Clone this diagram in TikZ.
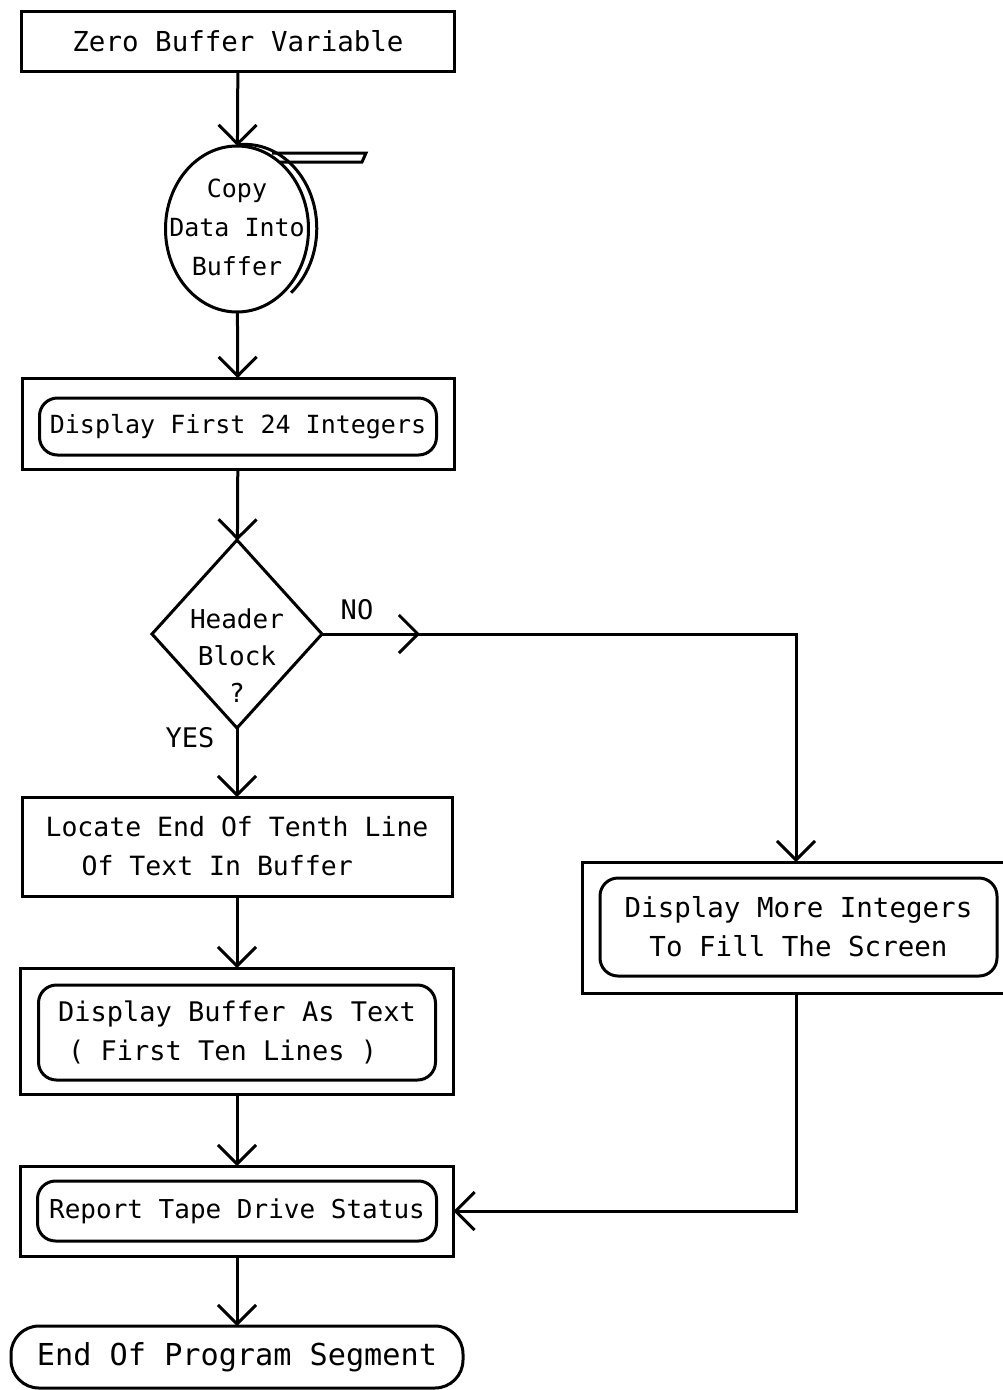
\documentclass[tikz,border=0pt]{standalone}
\usepackage{fontspec}
\newfontfamily\plotfont{DejaVu Sans Mono}
\usetikzlibrary{arrows.meta,shapes.geometric,decorations.markings}

\begin{document}
\begin{tikzpicture}[x=1pt,y=1pt,
  line width=3pt,
  every node/.style={inner sep=0pt, outer sep=0pt},
  fs/.style={font=\plotfont\fontsize{#1}{39}\selectfont},
  txt/.style={fs=26, align=center},
  box/.style={draw, rectangle, txt},
  outerbox/.style={draw, rectangle},
  innerbox/.style={draw, rectangle, rounded corners=18pt, txt},
  reel/.style={draw, ellipse},
  decision/.style={draw, diamond},
  terminal/.style={draw, rectangle, rounded corners=28pt, txt},
  flowtip/.style={-{Straight Barb[length=19pt,width=38pt]}},
  midtip/.style={postaction={decorate}, decoration={markings,
     mark=at position #1 with {\arrow{Straight Barb[length=19pt,width=38pt]}}}},
]
\useasboundingbox (0,0) rectangle (1003,-1390);
\clip (0,0) rectangle (1003,-1390);

% process steps
\node[box, fs=27.5, minimum width=433pt, minimum height=60pt] (zero) at (238,-41) {Zero Buffer Variable};

\node[reel, minimum width=143pt, minimum height=166pt] (copy) at (237,-229) {};
\node[txt, fs=25] (copytxt) at (237,-227) {Copy\\Data Into\\Buffer};
% tape wound on the reel and leaving it
\draw (236,-145) arc[start angle=97, end angle=-50, x radius=72pt, y radius=84pt];
\draw (272,-153) -- (366,-153) -- (362,-162) -- (280,-162);

\node[outerbox, minimum width=432pt, minimum height=91pt] (disp) at (238,-423.5) {};
\node[innerbox, fs=25, minimum width=397pt, minimum height=57pt] (dispin) at (238,-426.5) {Display First 24 Integers};

\node[decision, minimum width=170pt, minimum height=188pt] (hdr) at (237,-634) {};
\node[txt, font=\plotfont\fontsize{26}{37}\selectfont] (hdrtxt) at (237,-656) {Header\\Block\\?};
\node[fs=27] (no) at (357,-610) {NO};
\node[fs=27] (yes) at (190,-738) {YES};

\node[box, fs=26.5, align=left, minimum width=430pt, minimum height=99pt] (locate) at (237,-846.5)
  {Locate End Of Tenth Line\\\hspace*{36pt}Of Text In Buffer};

\node[outerbox, minimum width=433pt, minimum height=126pt] (dbuf) at (237,-1031) {};
\node[innerbox, fs=27, align=left, minimum width=397pt, minimum height=95pt] (dbufin) at (237,-1032.5)
  {Display Buffer As Text\\\hspace*{10pt}( First Ten Lines )};

\node[outerbox, minimum width=433pt, minimum height=90pt] (report) at (237,-1211) {};
\node[innerbox, fs=26, minimum width=399pt, minimum height=60pt] (reportin) at (237,-1211) {Report Tape Drive Status};

\node[terminal, fs=30.2, minimum width=452pt, minimum height=62pt] (endseg) at (237,-1357) {End Of Program Segment};

\node[outerbox, minimum width=428pt, minimum height=131pt] (more) at (796,-927.5) {};
\node[innerbox, fs=27.5, minimum width=397pt, minimum height=98pt] (morein) at (798.5,-927)
  {Display More Integers\\To Fill The Screen};

% connectors
\draw[flowtip] (zero) -- (copy);
\draw[flowtip] (copy) -- (disp);
\draw[flowtip] (disp) -- (hdr);
\draw[flowtip] (hdr.south) -- (locate);
\draw[flowtip] (locate) -- (dbuf);
\draw[flowtip] (dbuf) -- (report);
\draw[flowtip] (report) -- (endseg);
\draw[flowtip, midtip=98pt] (hdr.east) -- (more.north |- hdr.east) -- (more.north);
\draw[flowtip] (more.south) -- (more.south |- report.east) -- (report.east);
\end{tikzpicture}
\end{document}
